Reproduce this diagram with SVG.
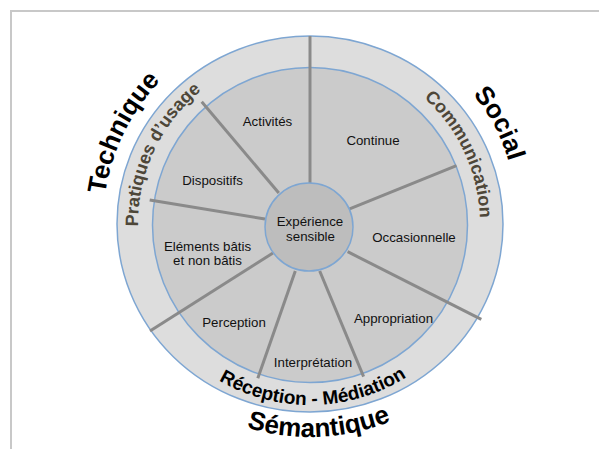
<svg xmlns="http://www.w3.org/2000/svg" xmlns:xlink="http://www.w3.org/1999/xlink" width="599" height="449" viewBox="0 0 599 449">
<style>
.lbl{font-family:"Liberation Sans",Arial,sans-serif;font-size:13.3px;fill:#111;text-anchor:middle}
.big{font-family:"Liberation Sans",Arial,sans-serif;font-size:26px;font-weight:bold;fill:#000}
.ring{font-family:"Liberation Sans",Arial,sans-serif;font-size:18px;font-weight:bold;fill:#4d4638}
.ringb{font-family:"Liberation Sans",Arial,sans-serif;font-size:19px;font-weight:bold;fill:#000}
.spoke{stroke:#8a8a8a;stroke-width:3;stroke-linecap:butt;fill:none}
.edge{stroke:#7ea6d2;stroke-width:1.5}
</style>
<defs>
<path id="pPrat" d="M465.9,296.7 A172,172 0 0 1 154.1,151.3 A172,172 0 0 1 465.9,296.7"/>
<path id="pComm" d="M155.9,295.8 A170,170 0 0 1 464.1,152.2 A170,170 0 0 1 155.9,295.8"/>
<path id="pTech" d="M496.1,314.7 A207,207 0 0 1 123.9,133.3 A207,207 0 0 1 496.1,314.7"/>
<path id="pSoc" d="M125.5,322.1 A209,209 0 0 1 494.5,125.9 A209,209 0 0 1 125.5,322.1"/>
<path id="pSem" d="M300.7,11.2 A213,213 0 0 0 319.3,436.8 A213,213 0 0 0 300.7,11.2"/>
<path id="pRec" d="M306.8,43 A181,181 0 0 0 313.2,405 A181,181 0 0 0 306.8,43"/>
</defs>
<rect width="599" height="449" fill="#fff"/>
<path d="M11,449 V11 H599" fill="none" stroke="#c8c8c8" stroke-width="2"/>

<g id="outer-ring">
<ellipse cx="310" cy="224" rx="193" ry="188" fill="#dddddd" class="edge"/>
</g>
<g id="inner-disc">
<circle cx="310" cy="225" r="157.5" fill="#cbcbcb" class="edge"/>
</g>

<g id="connectors">
<line class="spoke" x1="310" y1="36" x2="310" y2="184"/>
<line class="spoke" x1="201.7" y1="101.7" x2="278.8" y2="193"/>
<line class="spoke" x1="149.7" y1="200" x2="265" y2="219"/>
<line class="spoke" x1="150" y1="331" x2="273" y2="253"/>
<line class="spoke" x1="257.8" y1="378.3" x2="295.3" y2="271"/>
<line class="spoke" x1="363.6" y1="376.7" x2="319.7" y2="271"/>
<line class="spoke" x1="481.3" y1="319.3" x2="347.6" y2="251.7"/>
<line class="spoke" x1="456.5" y1="165.7" x2="348.4" y2="209.3"/>
</g>

<g id="center">
<circle cx="309" cy="227" r="44" fill="#bdbdbd" class="edge"/>
<text class="lbl" x="310" y="226">Expérience</text>
<text class="lbl" x="310.5" y="241">sensible</text>
</g>

<g id="activites"><text class="lbl" x="267.5" y="125.5">Activités</text></g>
<g id="continue"><text class="lbl" x="373" y="145">Continue</text></g>
<g id="dispositifs"><text class="lbl" x="212.5" y="184.5">Dispositifs</text></g>
<g id="occasionnelle"><text class="lbl" x="414" y="242">Occasionnelle</text></g>
<g id="elements"><text class="lbl" x="207.5" y="250.5">Eléments bâtis</text><text class="lbl" x="207.5" y="265">et non bâtis</text></g>
<g id="perception"><text class="lbl" x="234" y="327">Perception</text></g>
<g id="appropriation"><text class="lbl" x="393.5" y="322.5">Appropriation</text></g>
<g id="interpretation"><text class="lbl" x="313" y="366.5">Interprétation</text></g>

<g id="pratiques"><text class="ring"><textPath xlink:href="#pPrat" href="#pPrat" startOffset="50%" text-anchor="middle">Pratiques d’usage</textPath></text></g>
<g id="communication"><text class="ring"><textPath xlink:href="#pComm" href="#pComm" startOffset="50%" text-anchor="middle">Communication</textPath></text></g>
<g id="reception"><text class="ringb"><textPath xlink:href="#pRec" href="#pRec" startOffset="50%" text-anchor="middle">Réception - Médiation</textPath></text></g>
<g id="technique"><text class="big"><textPath xlink:href="#pTech" href="#pTech" startOffset="50%" text-anchor="middle">Technique</textPath></text></g>
<g id="social"><text class="big"><textPath xlink:href="#pSoc" href="#pSoc" startOffset="50%" text-anchor="middle">Social</textPath></text></g>
<g id="semantique"><text class="big"><textPath xlink:href="#pSem" href="#pSem" startOffset="50%" text-anchor="middle">Sémantique</textPath></text></g>
</svg>
